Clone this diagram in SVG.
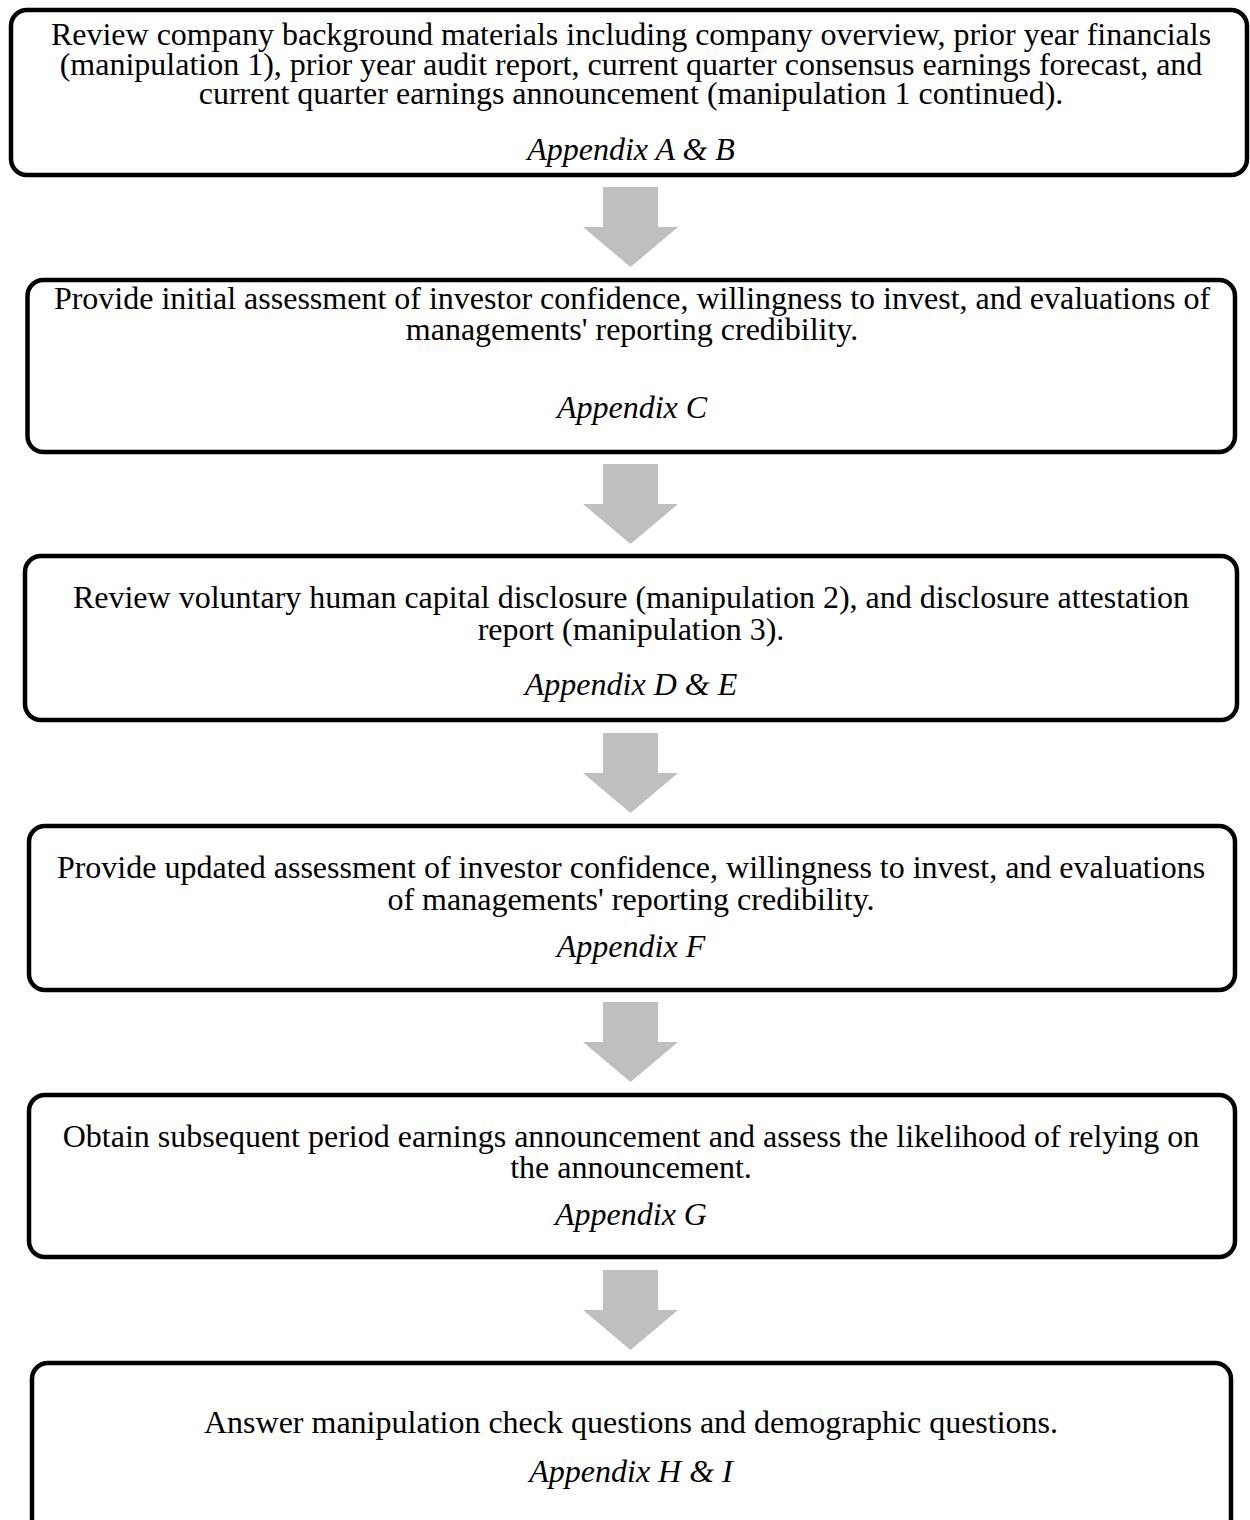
<svg xmlns="http://www.w3.org/2000/svg" width="1250" height="1520" viewBox="0 0 1250 1520">
<style>
.box{fill:#fff;stroke:#000;stroke-width:4.5}
.t{font-family:"Liberation Serif","Times New Roman",serif;font-size:32px;fill:#000;text-anchor:middle}
.i{font-style:italic}
.arr{fill:#bfbfbf}
</style>
<rect width="1250" height="1520" fill="#fff"/>
<defs>
<path id="arrow" d="M-27.5,0 H27.5 V40 H47.5 L0,80 L-47.5,40 H-27.5 Z"/>
</defs>
<g id="node1">
<rect class="box" x="11" y="10" width="1236" height="165" rx="16"/>
<text class="t" x="631" y="45">Review company background materials including company overview, prior year financials</text>
<text class="t" x="631" y="75">(manipulation 1), prior year audit report, current quarter consensus earnings forecast, and</text>
<text class="t" x="631" y="104">current quarter earnings announcement (manipulation 1 continued).</text>
<text class="t i" x="631" y="160">Appendix A &amp; B</text>
</g>
<g id="node2">
<rect class="box" x="27.5" y="280" width="1207.5" height="172" rx="16"/>
<text class="t" x="632" y="309">Provide initial assessment of investor confidence, willingness to invest, and evaluations of</text>
<text class="t" x="632" y="340">managements' reporting credibility.</text>
<text class="t i" x="632" y="418">Appendix C</text>
</g>
<g id="node3">
<rect class="box" x="25" y="556" width="1212" height="164" rx="16"/>
<text class="t" x="631" y="608">Review voluntary human capital disclosure (manipulation 2), and disclosure attestation</text>
<text class="t" x="631" y="640">report (manipulation 3).</text>
<text class="t i" x="631" y="695">Appendix D &amp; E</text>
</g>
<g id="node4">
<rect class="box" x="29" y="826" width="1206" height="164" rx="16"/>
<text class="t" x="631" y="878">Provide updated assessment of investor confidence, willingness to invest, and evaluations</text>
<text class="t" x="631" y="910">of managements' reporting credibility.</text>
<text class="t i" x="631" y="957">Appendix F</text>
</g>
<g id="node5">
<rect class="box" x="29" y="1095" width="1206" height="162" rx="16"/>
<text class="t" x="631" y="1147">Obtain subsequent period earnings announcement and assess the likelihood of relying on</text>
<text class="t" x="631" y="1178">the announcement.</text>
<text class="t i" x="631" y="1225">Appendix G</text>
</g>
<g id="node6">
<rect class="box" x="32" y="1363" width="1199" height="200" rx="16"/>
<text class="t" x="631" y="1433">Answer manipulation check questions and demographic questions.</text>
<text class="t i" x="631" y="1482">Appendix H &amp; I</text>
</g>
<g id="connectors">
<use href="#arrow" class="arr" x="630.5" y="187"/>
<use href="#arrow" class="arr" x="630.5" y="464"/>
<use href="#arrow" class="arr" x="630.5" y="733"/>
<use href="#arrow" class="arr" x="630.5" y="1002"/>
<use href="#arrow" class="arr" x="630.5" y="1270"/>
</g>
</svg>
